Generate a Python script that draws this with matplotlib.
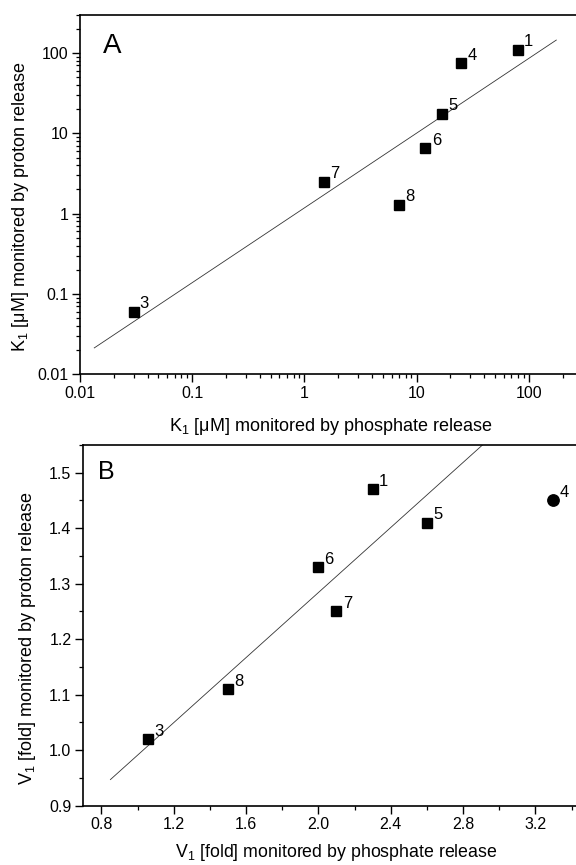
import matplotlib
matplotlib.use("Agg")
import matplotlib.pyplot as plt
import numpy as np

plt.rcParams['font.family'] = ['Liberation Sans', 'DejaVu Sans']
plt.rcParams['mathtext.default'] = 'regular'

# Panel A: K1 values (log-log)
labels_a = ['1', '4', '5', '6', '7', '8', '3']
k_phosphate = [80, 25, 17, 12, 1.5, 7, 0.03]
k_proton = [110, 75, 17.5, 6.5, 2.5, 1.3, 0.06]
fit_a_x = [0.0134, 176]
fit_a_y = [0.0213, 145]

# Panel B: V1 values
labels_b = ['1', '5', '6', '7', '8', '3']
v_phosphate = [2.30, 2.60, 2.00, 2.10, 1.50, 1.06]
v_proton = [1.47, 1.41, 1.33, 1.25, 1.11, 1.02]
outlier_b = ('4', 3.30, 1.45)
fit_b_x = [0.85, 3.0]
fit_b_y = [0.947, 1.577]

fig = plt.figure(figsize=(5.76, 8.65), dpi=100)
ax1 = fig.add_axes([0.1389, 0.5673, 0.872, 0.4157])
ax2 = fig.add_axes([0.1446, 0.0686, 0.879, 0.4170])


def style(ax):
    for s in ['left', 'bottom', 'top']:
        ax.spines[s].set_linewidth(1.2)
    ax.spines['right'].set_visible(False)
    ax.tick_params(which='major', direction='out', length=5.5, width=1.0,
                   labelsize=11.5, pad=3, top=False, right=False)
    ax.tick_params(which='minor', direction='out', length=3, width=0.9,
                   top=False, right=False)


# --- A ---
ax1.plot(fit_a_x, fit_a_y, color='#333333', lw=0.6)
ax1.plot(k_phosphate, k_proton, 's', color='black', ms=7.7)
for lab, x, y in zip(labels_a, k_phosphate, k_proton):
    ax1.annotate(lab, (x, y), xytext=(4.5, 2.5), textcoords='offset points',
                 fontsize=12, ha='left', va='baseline')
ax1.set_xscale('log')
ax1.set_yscale('log')
ax1.set_xlim(0.01, 300)
ax1.set_ylim(0.01, 300)
ax1.set_xticks([0.01, 0.1, 1, 10, 100])
ax1.set_xticklabels(['0.01', '0.1', '1', '10', '100'])
ax1.set_yticks([0.01, 0.1, 1, 10, 100])
ax1.set_yticklabels(['0.01', '0.1', '1', '10', '100'])
style(ax1)
ax1.set_xlabel('K$_1$ [\u03bcM] monitored by phosphate release', fontsize=13)
ax1.set_ylabel('K$_1$ [\u03bcM] monitored by proton release', fontsize=13)
ax1.yaxis.set_label_coords(-0.097, 0.466)
ax1.xaxis.set_label_coords(0.5, -0.117)
ax1.text(0.046, 0.893, 'A', transform=ax1.transAxes, fontsize=20,
         ha='left', va='baseline')

# --- B ---
ax2.plot(fit_b_x, fit_b_y, color='#333333', lw=0.6)
ax2.plot(v_phosphate, v_proton, 's', color='black', ms=7.7)
ax2.plot([outlier_b[1]], [outlier_b[2]], 'o', color='black', ms=8.2)
for lab, x, y in zip(labels_b + [outlier_b[0]], v_phosphate + [outlier_b[1]],
                     v_proton + [outlier_b[2]]):
    ax2.annotate(lab, (x, y), xytext=(4.5, 2.5), textcoords='offset points',
                 fontsize=12, ha='left', va='baseline')
ax2.set_xlim(0.7, 3.5)
ax2.set_ylim(0.9, 1.55)
ax2.set_xticks(np.arange(0.8, 3.3, 0.4))
ax2.set_xticklabels(['0.8', '1.2', '1.6', '2.0', '2.4', '2.8', '3.2'])
ax2.set_xticks(np.arange(0.8, 3.5, 0.2), minor=True)
ax2.set_yticks(np.arange(0.9, 1.51, 0.1))
ax2.set_yticklabels(['0.9', '1.0', '1.1', '1.2', '1.3', '1.4', '1.5'])
ax2.set_yticks(np.arange(0.95, 1.55, 0.1), minor=True)
style(ax2)
ax2.set_xlabel('V$_1$ [fold] monitored by phosphate release', fontsize=12.8)
ax2.set_ylabel('V$_1$ [fold] monitored by proton release', fontsize=13)
ax2.yaxis.set_label_coords(-0.089, 0.465)
ax2.xaxis.set_label_coords(0.5, -0.102)
ax2.text(0.029, 0.905, 'B', transform=ax2.transAxes, fontsize=18,
         ha='left', va='baseline')

fig.savefig('out.png', dpi=100)
